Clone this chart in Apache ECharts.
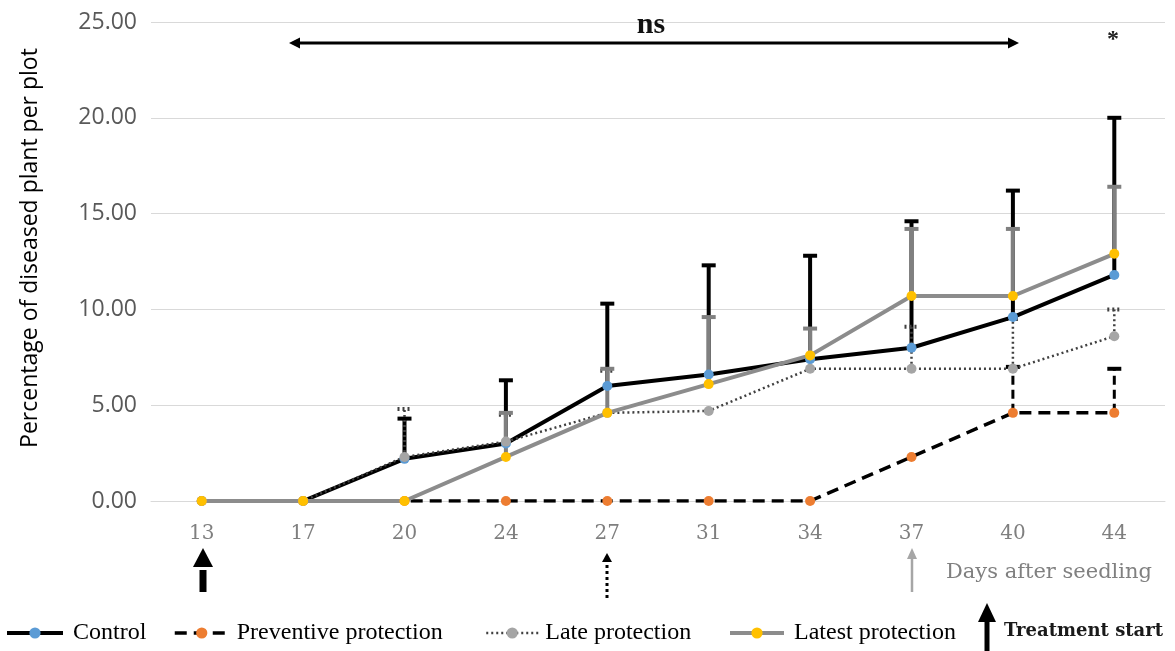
<!DOCTYPE html>
<html>
<head>
<meta charset="utf-8">
<script src="https://cdn.jsdelivr.net/npm/echarts@6/dist/echarts.min.js"></script>
<style>html,body{margin:0;padding:0;background:#fff;}#chart{width:1175px;height:651px;}</style>
</head>
<body>
<div id="chart"></div>
<script>
// ---- data ----
const categories = ['13', '17', '20', '24', '27', '31', '34', '37', '40', '44'];
const control = [0, 0, 2.2, 3.0, 6.0, 6.6, 7.4, 8.0, 9.6, 11.8];
const controlUpper = [null, null, 4.3, 6.3, 10.3, 12.3, 12.8, 14.6, 16.2, 20.0];
const preventive = [0, 0, 0, 0, 0, 0, 0, 2.3, 4.6, 4.6];
const preventiveUpper = [null, null, null, null, null, null, null, null, 7.0, 6.9];
const late = [0, 0, 2.3, 3.1, 4.6, 4.7, 6.9, 6.9, 6.9, 8.6];
const lateUpper = [null, null, 4.8, 4.5, 6.8, null, null, 9.1, 9.5, 10.0];
const latest = [0, 0, 0, 2.3, 4.6, 6.1, 7.6, 10.7, 10.7, 12.9];
const latestUpper = [null, null, null, 4.6, 6.9, 9.6, 9.0, 14.2, 14.2, 16.4];
const seriesNames = ['Control', 'Preventive protection', 'Late protection', 'Latest protection'];
const yAxisTitle = 'Percentage of diseased plant per plot';

function errData(vals, ups) {
  const out = [];
  vals.forEach((v, i) => { if (ups[i] != null) out.push([i, v, ups[i]]); });
  return out;
}
function errSeries(vals, ups, color, width, dash, capDash) {
  return {
    type: 'custom', z: 1, silent: true,
    data: errData(vals, ups),
    encode: { x: 0, y: [1, 2] },
    renderItem: function (params, api) {
      const i = api.value(0);
      const p0 = api.coord([i, api.value(1)]);
      const p1 = api.coord([i, api.value(2)]);
      return {
        type: 'group',
        children: [
          { type: 'line', shape: { x1: p0[0], y1: p0[1], x2: p1[0], y2: p1[1] },
            style: { stroke: color, lineWidth: width, lineDash: dash } },
          { type: 'line', shape: { x1: p1[0] - 7, y1: p1[1], x2: p1[0] + 7, y2: p1[1] },
            style: { stroke: color, lineWidth: 4, lineDash: capDash } }
        ]
      };
    }
  };
}
function lineSeries(name, vals, dotColor, lineColor, width, type) {
  return {
    name: name, type: 'line', z: 2, data: vals,
    symbol: 'circle', symbolSize: 10, showSymbol: true,
    itemStyle: { color: dotColor },
    lineStyle: { color: lineColor, width: width, type: type },
    emphasis: { disabled: true }
  };
}
function legendAt(name, left, iconW, pad, lw) {
  return {
    data: [name], left: left, top: 616, selectedMode: false,
    itemWidth: iconW, itemHeight: 14,
    lineStyle: { width: lw },
    textStyle: { fontFamily: 'Liberation Serif', fontSize: 24, color: '#000', padding: [0, 0, 0, pad] }
  };
}

const chart = echarts.init(document.getElementById('chart'));
const option = {
  animation: false,
  grid: { left: 151, right: 10, top: 22, bottom: 150 },
  xAxis: {
    type: 'category', data: categories, boundaryGap: true,
    axisLine: { lineStyle: { color: '#d9d9d9', width: 1 } },
    axisTick: { show: false },
    axisLabel: { color: '#7f7f7f', fontFamily: 'DejaVu Serif', fontSize: 20, margin: 23 }
  },
  yAxis: {
    type: 'value', min: 0, max: 25, interval: 5,
    axisLine: { show: false }, axisTick: { show: false },
    axisLabel: { formatter: v => v.toFixed(2), color: '#595959', fontFamily: 'Open Sans', fontSize: 23, margin: 14 },
    splitLine: { lineStyle: { color: '#d9d9d9', width: 1 } }
  },
  legend: [
    legendAt(seriesNames[0], 0, 56, 5, 4),
    legendAt(seriesNames[1], 168, 54, 3, 3.5),
    legendAt(seriesNames[2], 480, 52, 2, 2.5),
    legendAt(seriesNames[3], 723, 54, 5, 4)
  ],
  series: [
    errSeries(control, controlUpper, '#000000', 4, null, null),
    errSeries(preventive, preventiveUpper, '#000000', 3, [9, 5], null),
    errSeries(late, lateUpper, '#404040', 2.5, [2, 3], [2, 3]),
    errSeries(latest, latestUpper, '#808080', 4, null, null),
    lineSeries(seriesNames[0], control, '#5b9bd5', '#000000', 4, 'solid'),
    lineSeries(seriesNames[1], preventive, '#ed7d31', '#000000', 3.5, [12, 7]),
    lineSeries(seriesNames[2], late, '#a5a5a5', '#404040', 2.5, [2, 3]),
    lineSeries(seriesNames[3], latest, '#ffc000', '#8c8c8c', 4, 'solid')
  ],
  graphic: [
    // y axis title
    { type: 'text', z: 100, x: 30, y: 248, rotation: Math.PI / 2,
      style: { text: yAxisTitle, font: '23px "Open Sans"', fill: '#000', align: 'center', verticalAlign: 'middle' } },
    // "ns" double arrow
    { type: 'line', z: 100, shape: { x1: 297, y1: 43, x2: 1011, y2: 43 }, style: { stroke: '#000', lineWidth: 3 } },
    { type: 'polygon', z: 100, shape: { points: [[289, 43], [300, 37.5], [300, 48.5]] }, style: { fill: '#000' } },
    { type: 'polygon', z: 100, shape: { points: [[1019, 43], [1008, 37.5], [1008, 48.5]] }, style: { fill: '#000' } },
    { type: 'text', z: 100, x: 651, y: 25, style: { text: 'ns', font: 'bold 30px "Liberation Serif"', fill: '#111', align: 'center', verticalAlign: 'middle' } },
    { type: 'text', z: 100, x: 1113, y: 40, style: { text: '*', font: 'bold 24px "Liberation Serif"', fill: '#222', align: 'center', verticalAlign: 'middle' } },
    // arrow under 13
    { type: 'polygon', z: 100, shape: { points: [[203, 548], [193, 567], [213, 567]] }, style: { fill: '#000' } },
    { type: 'rect', z: 100, shape: { x: 199.5, y: 570, width: 7, height: 22 }, style: { fill: '#000' } },
    // dotted arrow under 27
    { type: 'polygon', z: 100, shape: { points: [[607, 553], [602, 562], [612, 562]] }, style: { fill: '#000' } },
    { type: 'line', z: 100, shape: { x1: 607, y1: 565, x2: 607, y2: 598 }, style: { stroke: '#000', lineWidth: 3, lineDash: [3, 3] } },
    // gray arrow under 37
    { type: 'polygon', z: 100, shape: { points: [[912, 548], [907, 559], [917, 559]] }, style: { fill: '#a6a6a6' } },
    { type: 'line', z: 100, shape: { x1: 912, y1: 558, x2: 912, y2: 592 }, style: { stroke: '#a6a6a6', lineWidth: 2.5 } },
    { type: 'text', z: 100, x: 946, y: 573, style: { text: 'Days after seedling', font: '21px "DejaVu Serif"', fill: '#808080', align: 'left', verticalAlign: 'middle' } },
    // treatment start key
    { type: 'polygon', z: 100, shape: { points: [[987, 603], [978, 622], [996, 622]] }, style: { fill: '#000' } },
    { type: 'rect', z: 100, shape: { x: 984.5, y: 620, width: 5, height: 31 }, style: { fill: '#000' } },
    { type: 'text', z: 100, x: 1004, y: 631, style: { text: 'Treatment start', font: 'bold 18px "DejaVu Serif"', fill: '#1a1a1a', align: 'left', verticalAlign: 'middle' } }
  ]
};
chart.setOption(option);
</script>
</body>
</html>
